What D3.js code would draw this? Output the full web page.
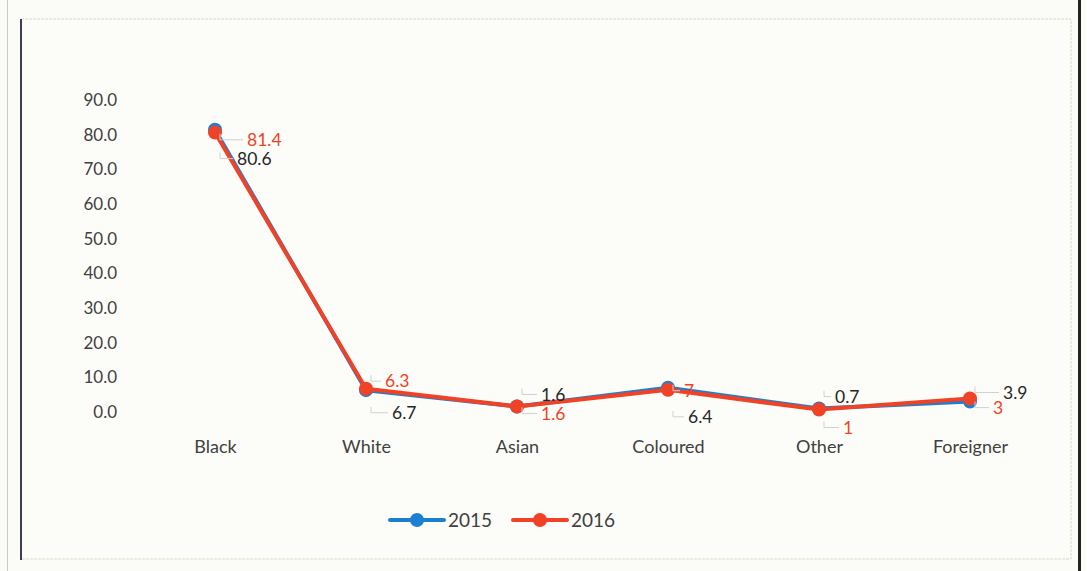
<!DOCTYPE html>
<html>
<head>
<meta charset="utf-8">
<script src="https://cdn.jsdelivr.net/npm/d3@7"></script>
<style>
  html, body { margin: 0; padding: 0; background: #fbfbf7; overflow: hidden; }
  svg { display: block; }
  text { font-family: Lato, "Open Sans", "DejaVu Sans", sans-serif; }
</style>
</head>
<body>
<svg id="chart" width="1087" height="571"></svg>
<script>
const categories = ["Black", "White", "Asian", "Coloured", "Other", "Foreigner"];
const values2015 = [81.4, 6.3, 1.6, 7, 1, 3];
const values2016 = [80.6, 6.7, 1.6, 6.4, 0.7, 3.9];
const labels2015 = ["81.4", "6.3", "1.6", "7", "1", "3"];
const labels2016 = ["80.6", "6.7", "1.6", "6.4", "0.7", "3.9"];
const yTicks = [0, 10, 20, 30, 40, 50, 60, 70, 80, 90];
const seriesNames = ["2015", "2016"];

// label placement (offsets from point, px) — styling, not data
const off2015 = [[32, 10], [19, -9], [24, 7], [16, 3], [24, 19], [23, 6]];
const off2016 = [[22, 26], [26, 24], [24, -12], [20, 27], [16, -13], [33, -6]];

const colors = { "2015": "#1d7fd0", "2016": "#ef4226" };

const svg = d3.select("#chart");

// frame
svg.append("line").attr("x1", 7.5).attr("x2", 7.5).attr("y1", 0).attr("y2", 571)
  .attr("stroke", "#c9c9c9").attr("stroke-width", 1);
svg.append("rect").attr("x", 21).attr("y", 19).attr("width", 1050).attr("height", 540)
  .attr("fill", "#fcfcf8").attr("stroke", "#d9d9c4").attr("stroke-width", 1)
  .attr("stroke-dasharray", "3,1");
svg.append("line").attr("x1", 21).attr("x2", 21).attr("y1", 19).attr("y2", 560)
  .attr("stroke", "#3a3f52").attr("stroke-width", 2);
svg.append("rect").attr("x", 1078).attr("y", 0).attr("width", 3).attr("height", 571)
  .attr("fill", "#222");

const x = d3.scalePoint().domain(categories).range([215, 970]);
const y = d3.scaleLinear().domain([0, 90]).range([412, 100]);

// y axis
const yAxis = svg.append("g").attr("transform", "translate(117,0)")
  .call(d3.axisLeft(y).tickValues(yTicks).tickSize(0).tickPadding(0).tickFormat(d3.format(".1f")));
yAxis.select(".domain").remove();
yAxis.selectAll("text").attr("font-size", 17).attr("fill", "#404040")
  .style("font-family", "Lato, 'Open Sans', sans-serif");

// x axis labels
const xAxis = svg.append("g").attr("transform", "translate(0,447)")
  .call(d3.axisBottom(x).tickSize(0).tickPadding(0));
xAxis.select(".domain").remove();
xAxis.selectAll("text").attr("font-size", 18).attr("fill", "#404040").attr("dy", "0.35em")
  .style("font-family", "Lato, 'Open Sans', sans-serif");

const line = d3.line().x((d, i) => x(categories[i])).y(d => y(d));

const series = [
  { name: "2015", values: values2015 },
  { name: "2016", values: values2016 }
];

series.forEach(s => {
  const g = svg.append("g");
  g.append("path").datum(s.values).attr("d", line)
    .attr("fill", "none").attr("stroke", colors[s.name]).attr("stroke-width", 4)
    .attr("stroke-linejoin", "round");
  g.selectAll("circle").data(s.values).join("circle")
    .attr("cx", (d, i) => x(categories[i])).attr("cy", d => y(d)).attr("r", 7)
    .attr("fill", colors[s.name]);
});

// data labels with leader lines
function drawLabels(vals, labs, offs, color) {
  vals.forEach((v, i) => {
    const px = x(categories[i]), py = y(v);
    const [dx, dy] = offs[i];
    const tx = px + dx, ty = py + dy;
    svg.append("path")
      .attr("d", `M${px + 5},${ty - 6} L${px + 5},${ty} L${tx - 4},${ty}`)
      .attr("fill", "none").attr("stroke", "#d0d0d0").attr("stroke-width", 1);
    svg.append("text").attr("x", tx).attr("y", ty).attr("dy", "0.35em")
      .attr("font-size", 17.5).attr("fill", color).text(labs[i]);
  });
}
drawLabels(values2015, labels2015, off2015, "#ef4226");
drawLabels(values2016, labels2016, off2016, "#262626");

// legend
const legend = svg.append("g");
const legendItems = [{ name: "2015", x0: 390 }, { name: "2016", x0: 513 }];
legendItems.forEach(it => {
  legend.append("line").attr("x1", it.x0).attr("x2", it.x0 + 54).attr("y1", 520).attr("y2", 520)
    .attr("stroke", colors[it.name]).attr("stroke-width", 4).attr("stroke-linecap", "round");
  legend.append("circle").attr("cx", it.x0 + 27).attr("cy", 520).attr("r", 7).attr("fill", colors[it.name]);
  legend.append("text").attr("x", it.x0 + 58).attr("y", 520).attr("dy", "0.35em")
    .attr("font-size", 19).attr("fill", "#404040").text(it.name);
});
</script>
</body>
</html>
